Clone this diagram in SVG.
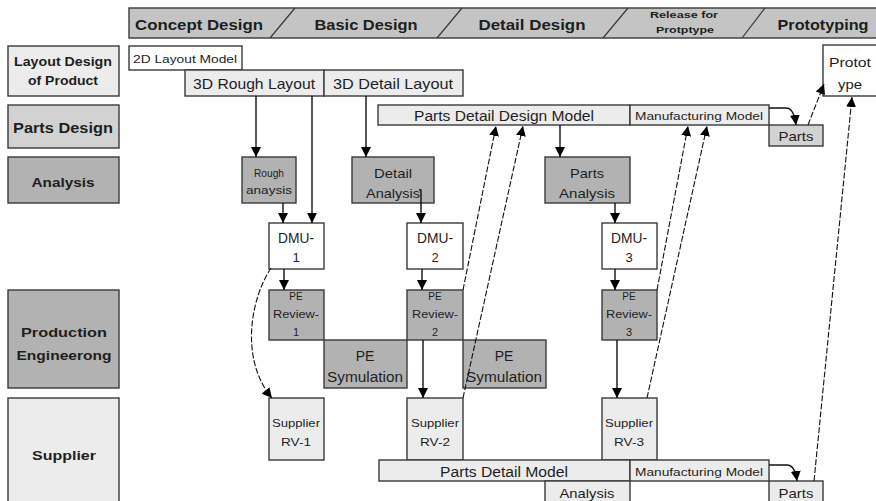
<svg xmlns="http://www.w3.org/2000/svg" width="876" height="501" viewBox="0 0 876 501">
  <style>
    .box { stroke: #3a3a3a; stroke-width: 1.4; }
    .white { fill: #ffffff; }
    .light { fill: #ececec; }
    .mid { fill: #d2d2d2; }
    .dark { fill: #b2b2b2; }
    .hdr { fill: #c4c4c4; }
    text { font-family: "Liberation Sans", Arial, sans-serif; fill: #1e1e1e; text-anchor: middle; }
    .lab { font-weight: bold; }
    .phase { font-weight: bold; font-size: 15px; }
    .conn { fill: none; stroke: #111; stroke-width: 1.4; }
    .dash { fill: none; stroke: #111; stroke-width: 1.1; stroke-dasharray: 6 2; }
  </style>
  <defs>
    <marker id="ah" viewBox="0 0 10 10" refX="10" refY="5" markerWidth="10" markerHeight="10" markerUnits="userSpaceOnUse" orient="auto">
      <path d="M0,0 L10,5 L0,10 Z" fill="#000"/>
    </marker>
  </defs>

  <rect width="876" height="501" fill="#ffffff"/>

  <!-- phase header -->
  <g id="phases">
    <rect class="box hdr" x="129" y="8" width="750" height="30"/>
    <path d="M295,8 L270,38 M462,8 L437,38 M628,8 L603,38 M765,8 L742,38" stroke="#3a3a3a" stroke-width="1.2" fill="none"/>
    <text class="phase" x="199" y="30" textLength="128" lengthAdjust="spacingAndGlyphs">Concept Design</text>
    <text class="phase" x="366" y="30" textLength="103" lengthAdjust="spacingAndGlyphs">Basic Design</text>
    <text class="phase" x="532" y="30" textLength="107" lengthAdjust="spacingAndGlyphs">Detail Design</text>
    <text class="lab" x="684" y="18" font-size="9" textLength="68" lengthAdjust="spacingAndGlyphs">Release for</text>
    <text class="lab" x="685" y="33" font-size="9" textLength="58" lengthAdjust="spacingAndGlyphs">Protptype</text>
    <text class="phase" x="823" y="30" textLength="91" lengthAdjust="spacingAndGlyphs">Prototyping</text>
  </g>

  <!-- swimlane labels -->
  <g id="lane-layout">
    <rect class="box light" x="8" y="46" width="111" height="50"/>
    <text class="lab" x="63" y="66" font-size="12" textLength="98" lengthAdjust="spacingAndGlyphs">Layout Design</text>
    <text class="lab" x="63" y="85" font-size="12" textLength="70" lengthAdjust="spacingAndGlyphs">of Product</text>
  </g>
  <g id="lane-parts">
    <rect class="box mid" x="8" y="105" width="111" height="43"/>
    <text class="lab" x="63" y="133" font-size="14" textLength="100" lengthAdjust="spacingAndGlyphs">Parts Design</text>
  </g>
  <g id="lane-analysis">
    <rect class="box dark" x="8" y="157" width="111" height="46"/>
    <text class="lab" x="63" y="187" font-size="13.5" textLength="63" lengthAdjust="spacingAndGlyphs">Analysis</text>
  </g>
  <g id="lane-production">
    <rect class="box dark" x="8" y="290" width="111" height="98"/>
    <text class="lab" x="64" y="337" font-size="13.5" textLength="86" lengthAdjust="spacingAndGlyphs">Production</text>
    <text class="lab" x="64" y="360" font-size="13.5" textLength="95" lengthAdjust="spacingAndGlyphs">Engineerong</text>
  </g>
  <g id="lane-supplier">
    <rect class="box light" x="8" y="398" width="111" height="110"/>
    <text class="lab" x="64" y="460" font-size="13.5" textLength="64" lengthAdjust="spacingAndGlyphs">Supplier</text>
  </g>

  <!-- layout models -->
  <g id="layout-2d">
    <rect class="box white" x="129" y="46" width="113" height="24"/>
    <text x="185" y="63" font-size="11" textLength="104" lengthAdjust="spacingAndGlyphs">2D Layout Model</text>
  </g>
  <g id="layout-3d-rough">
    <rect class="box light" x="185" y="70" width="139" height="26"/>
    <text x="254" y="89" font-size="15" textLength="122" lengthAdjust="spacingAndGlyphs">3D Rough Layout</text>
  </g>
  <g id="layout-3d-detail">
    <rect class="box light" x="324" y="70" width="139" height="26"/>
    <text x="393" y="89" font-size="15" textLength="120" lengthAdjust="spacingAndGlyphs">3D Detail Layout</text>
  </g>
  <g id="prototype">
    <rect class="box white" x="823" y="45" width="60" height="51"/>
    <text x="850" y="67" font-size="13" textLength="42" lengthAdjust="spacingAndGlyphs">Protot</text>
    <text x="850" y="89" font-size="13" textLength="24" lengthAdjust="spacingAndGlyphs">ype</text>
  </g>

  <!-- parts design -->
  <g id="parts-detail-design-model">
    <rect class="box light" x="378" y="105" width="252" height="20"/>
    <text x="504" y="121" font-size="14" textLength="180" lengthAdjust="spacingAndGlyphs">Parts Detail Design Model</text>
  </g>
  <g id="manufacturing-model-top">
    <rect class="box light" x="630" y="105" width="139" height="20"/>
    <text x="699" y="120" font-size="11" textLength="128" lengthAdjust="spacingAndGlyphs">Manufacturing Model</text>
  </g>
  <g id="parts-top">
    <rect class="box mid" x="769" y="125" width="54" height="21"/>
    <text x="796" y="141" font-size="13" textLength="35" lengthAdjust="spacingAndGlyphs">Parts</text>
  </g>

  <!-- analysis -->
  <g id="rough-analysis">
    <rect class="box dark" x="242" y="157" width="54" height="46"/>
    <text x="269" y="177" font-size="10" textLength="30" lengthAdjust="spacingAndGlyphs">Rough</text>
    <text x="269" y="194" font-size="10" textLength="46" lengthAdjust="spacingAndGlyphs">anaysis</text>
  </g>
  <g id="detail-analysis">
    <rect class="box dark" x="352" y="157" width="82" height="46"/>
    <text x="393" y="178" font-size="13.5" textLength="38" lengthAdjust="spacingAndGlyphs">Detail</text>
    <text x="393" y="198" font-size="13.5" textLength="54" lengthAdjust="spacingAndGlyphs">Analysis</text>
  </g>
  <g id="parts-analysis">
    <rect class="box dark" x="545" y="157" width="85" height="46"/>
    <text x="587" y="178" font-size="13.5" textLength="34" lengthAdjust="spacingAndGlyphs">Parts</text>
    <text x="587" y="198" font-size="13.5" textLength="56" lengthAdjust="spacingAndGlyphs">Analysis</text>
  </g>

  <!-- digital mock-ups -->
  <g id="dmu-1">
    <rect class="box white" x="269" y="223" width="55" height="46"/>
    <text x="296" y="243" font-size="14" textLength="36" lengthAdjust="spacingAndGlyphs">DMU-</text>
    <text x="296" y="262" font-size="13">1</text>
  </g>
  <g id="dmu-2">
    <rect class="box white" x="407" y="223" width="56" height="46"/>
    <text x="435" y="243" font-size="14" textLength="36" lengthAdjust="spacingAndGlyphs">DMU-</text>
    <text x="435" y="262" font-size="13">2</text>
  </g>
  <g id="dmu-3">
    <rect class="box white" x="602" y="223" width="55" height="46"/>
    <text x="629" y="243" font-size="14" textLength="36" lengthAdjust="spacingAndGlyphs">DMU-</text>
    <text x="629" y="262" font-size="13">3</text>
  </g>

  <!-- production engineering -->
  <g id="pe-review-1">
    <rect class="box dark" x="269" y="290" width="55" height="50"/>
    <text x="296" y="300" font-size="10">PE</text>
    <text x="296" y="318" font-size="10" textLength="46" lengthAdjust="spacingAndGlyphs">Review-</text>
    <text x="296" y="336" font-size="11">1</text>
  </g>
  <g id="pe-review-2">
    <rect class="box dark" x="407" y="290" width="56" height="50"/>
    <text x="435" y="300" font-size="10">PE</text>
    <text x="435" y="318" font-size="10" textLength="46" lengthAdjust="spacingAndGlyphs">Review-</text>
    <text x="435" y="336" font-size="11">2</text>
  </g>
  <g id="pe-review-3">
    <rect class="box dark" x="602" y="290" width="55" height="50"/>
    <text x="629" y="300" font-size="10">PE</text>
    <text x="629" y="318" font-size="10" textLength="46" lengthAdjust="spacingAndGlyphs">Review-</text>
    <text x="629" y="336" font-size="11">3</text>
  </g>
  <g id="pe-simulation-1">
    <rect class="box dark" x="324" y="340" width="83" height="48"/>
    <text x="365" y="361" font-size="14">PE</text>
    <text x="365" y="382" font-size="14" textLength="76" lengthAdjust="spacingAndGlyphs">Symulation</text>
  </g>
  <g id="pe-simulation-2">
    <rect class="box dark" x="463" y="340" width="83" height="48"/>
    <text x="504" y="361" font-size="14">PE</text>
    <text x="504" y="382" font-size="14" textLength="76" lengthAdjust="spacingAndGlyphs">Symulation</text>
  </g>

  <!-- supplier reviews -->
  <g id="supplier-rv-1">
    <rect class="box light" x="269" y="398" width="55" height="62"/>
    <text x="296" y="427" font-size="10.5" textLength="48" lengthAdjust="spacingAndGlyphs">Supplier</text>
    <text x="296" y="446" font-size="11" textLength="30" lengthAdjust="spacingAndGlyphs">RV-1</text>
  </g>
  <g id="supplier-rv-2">
    <rect class="box light" x="407" y="398" width="56" height="62"/>
    <text x="435" y="427" font-size="10.5" textLength="48" lengthAdjust="spacingAndGlyphs">Supplier</text>
    <text x="435" y="446" font-size="11" textLength="30" lengthAdjust="spacingAndGlyphs">RV-2</text>
  </g>
  <g id="supplier-rv-3">
    <rect class="box light" x="602" y="398" width="55" height="62"/>
    <text x="629" y="427" font-size="10.5" textLength="48" lengthAdjust="spacingAndGlyphs">Supplier</text>
    <text x="629" y="446" font-size="11" textLength="30" lengthAdjust="spacingAndGlyphs">RV-3</text>
  </g>

  <!-- supplier models -->
  <g id="parts-detail-model">
    <rect class="box light" x="379" y="460" width="251" height="21"/>
    <text x="504" y="477" font-size="14" textLength="128" lengthAdjust="spacingAndGlyphs">Parts Detail Model</text>
  </g>
  <g id="manufacturing-model-bottom">
    <rect class="box light" x="630" y="460" width="139" height="21"/>
    <text x="699" y="476" font-size="11" textLength="128" lengthAdjust="spacingAndGlyphs">Manufacturing Model</text>
  </g>
  <g id="analysis-bottom">
    <rect class="box light" x="545" y="481" width="85" height="25"/>
    <text x="587" y="498" font-size="13.5" textLength="55" lengthAdjust="spacingAndGlyphs">Analysis</text>
  </g>
  <g id="parts-bottom">
    <rect class="box light" x="769" y="481" width="54" height="25"/>
    <text x="796" y="498" font-size="13" textLength="35" lengthAdjust="spacingAndGlyphs">Parts</text>
  </g>

  <!-- connectors -->
  <g id="connectors">
    <path class="conn" d="M256,96 V157" marker-end="url(#ah)"/>
    <path class="conn" d="M312,96 V223" marker-end="url(#ah)"/>
    <path class="conn" d="M366,96 V157" marker-end="url(#ah)"/>
    <path class="conn" d="M283,203 V223" marker-end="url(#ah)"/>
    <path class="conn" d="M419,190 H421 V223" marker-end="url(#ah)"/>
    <path class="conn" d="M560,125 V157" marker-end="url(#ah)"/>
    <path class="conn" d="M615,203 V223" marker-end="url(#ah)"/>
    <path class="conn" d="M284,269 V290" marker-end="url(#ah)"/>
    <path class="conn" d="M422,269 V290" marker-end="url(#ah)"/>
    <path class="conn" d="M615,269 V290" marker-end="url(#ah)"/>
    <path class="conn" d="M423,340 V398" marker-end="url(#ah)"/>
    <path class="conn" d="M617,340 V398" marker-end="url(#ah)"/>
    <path class="conn" d="M769,108 H786 Q794,108 796,125" marker-end="url(#ah)"/>
    <path class="conn" d="M769,465 H787 Q795,465 797,481" marker-end="url(#ah)"/>
    <path class="dash" d="M271,268 C250,300 240,360 272,398" marker-end="url(#ah)"/>
    <path class="dash" d="M463,290 L496,126" marker-end="url(#ah)"/>
    <path class="dash" d="M463,398 L523,126" marker-end="url(#ah)"/>
    <path class="dash" d="M657,290 L688,126" marker-end="url(#ah)"/>
    <path class="dash" d="M647,398 L707,126" marker-end="url(#ah)"/>
    <path class="dash" d="M808,125 L824,84" marker-end="url(#ah)"/>
    <path class="dash" d="M814,481 L852,97" marker-end="url(#ah)"/>
  </g>
</svg>
